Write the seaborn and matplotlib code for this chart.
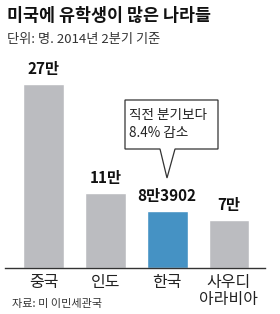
import matplotlib
matplotlib.use("Agg")
import matplotlib.pyplot as plt
import seaborn as sns
import pandas as pd
from matplotlib.patches import Polygon

categories = ["중국", "인도", "한국", "사우디\n아라비아"]
values = [27.0, 11.0, 8.3902, 7.0]
value_labels = ["27만", "11만", "8만3902", "7만"]
title = "미국에 유학생이 많은 나라들"
subtitle = "단위: 명. 2014년 2분기 기준"
source = "자료: 미 이민세관국"
callout = "직전 분기보다\n8.4% 감소"

sns.set_theme(style="white")
plt.rcParams['font.family'] = ['Noto Sans CJK KR', 'DejaVu Sans']

W, H = 280, 314
fig = plt.figure(figsize=(W / 100, H / 100), dpi=100)

def fx(x):
    return x / W

def fy(y):
    return 1 - y / H

# axes: left 5px, right 265px, bottom 268px, top 60px
ax = fig.add_axes([fx(5), fy(268), fx(260), (268 - 60) / H])
df = pd.DataFrame({"cat": categories, "val": values})
colors = ["#bbbcc0", "#bbbcc0", "#4592c4", "#bbbcc0"]
sns.barplot(data=df, x="cat", y="val", hue="cat", palette=colors, legend=False,
            width=0.66, ax=ax, saturation=1)
ax.set_xlim(-0.623, 3.584)
ax.set_ylim(0, 27 * 208 / 184)
ax.set_xlabel("")
ax.set_ylabel("")
ax.set_yticks([])
for s in ["top", "left", "right"]:
    ax.spines[s].set_visible(False)
ax.spines["bottom"].set_color("#333333")
ax.spines["bottom"].set_linewidth(1.0)
ax.tick_params(axis="x", length=0, pad=4, labelsize=11.5, labelcolor="#222222")
for lab in ax.get_xticklabels():
    lab.set_linespacing(1.0)
    lab.set_verticalalignment("top")

for i, (v, t) in enumerate(zip(values, value_labels)):
    ax.annotate(t, (i, v), xytext=(0, 5), textcoords="offset points",
                ha="center", va="bottom", fontsize=11, fontweight="bold",
                color="#111111", annotation_clip=False)

fig.text(fx(7), fy(16), title, fontsize=12.5, fontweight="bold", va="center",
         ha="left", color="#111111")
fig.text(fx(7), fy(40), subtitle, fontsize=9.5, va="center", ha="left",
         color="#333333")
fig.text(fx(12), fy(304), source, fontsize=8, va="center", ha="left",
         color="#333333")

# callout box with pointer
pts = [(125, 100), (218, 100), (218, 149), (175, 149), (167, 178),
       (160, 149), (125, 149)]
poly = Polygon([(fx(x), fy(y)) for x, y in pts], closed=True,
               transform=fig.transFigure, facecolor="white",
               edgecolor="#333333", linewidth=0.9)
fig.patches.append(poly)
fig.text(fx(129), fy(124), callout, fontsize=9.8, va="center", ha="left",
         color="#222222", linespacing=1.3)

fig.savefig("out.png", dpi=100)
